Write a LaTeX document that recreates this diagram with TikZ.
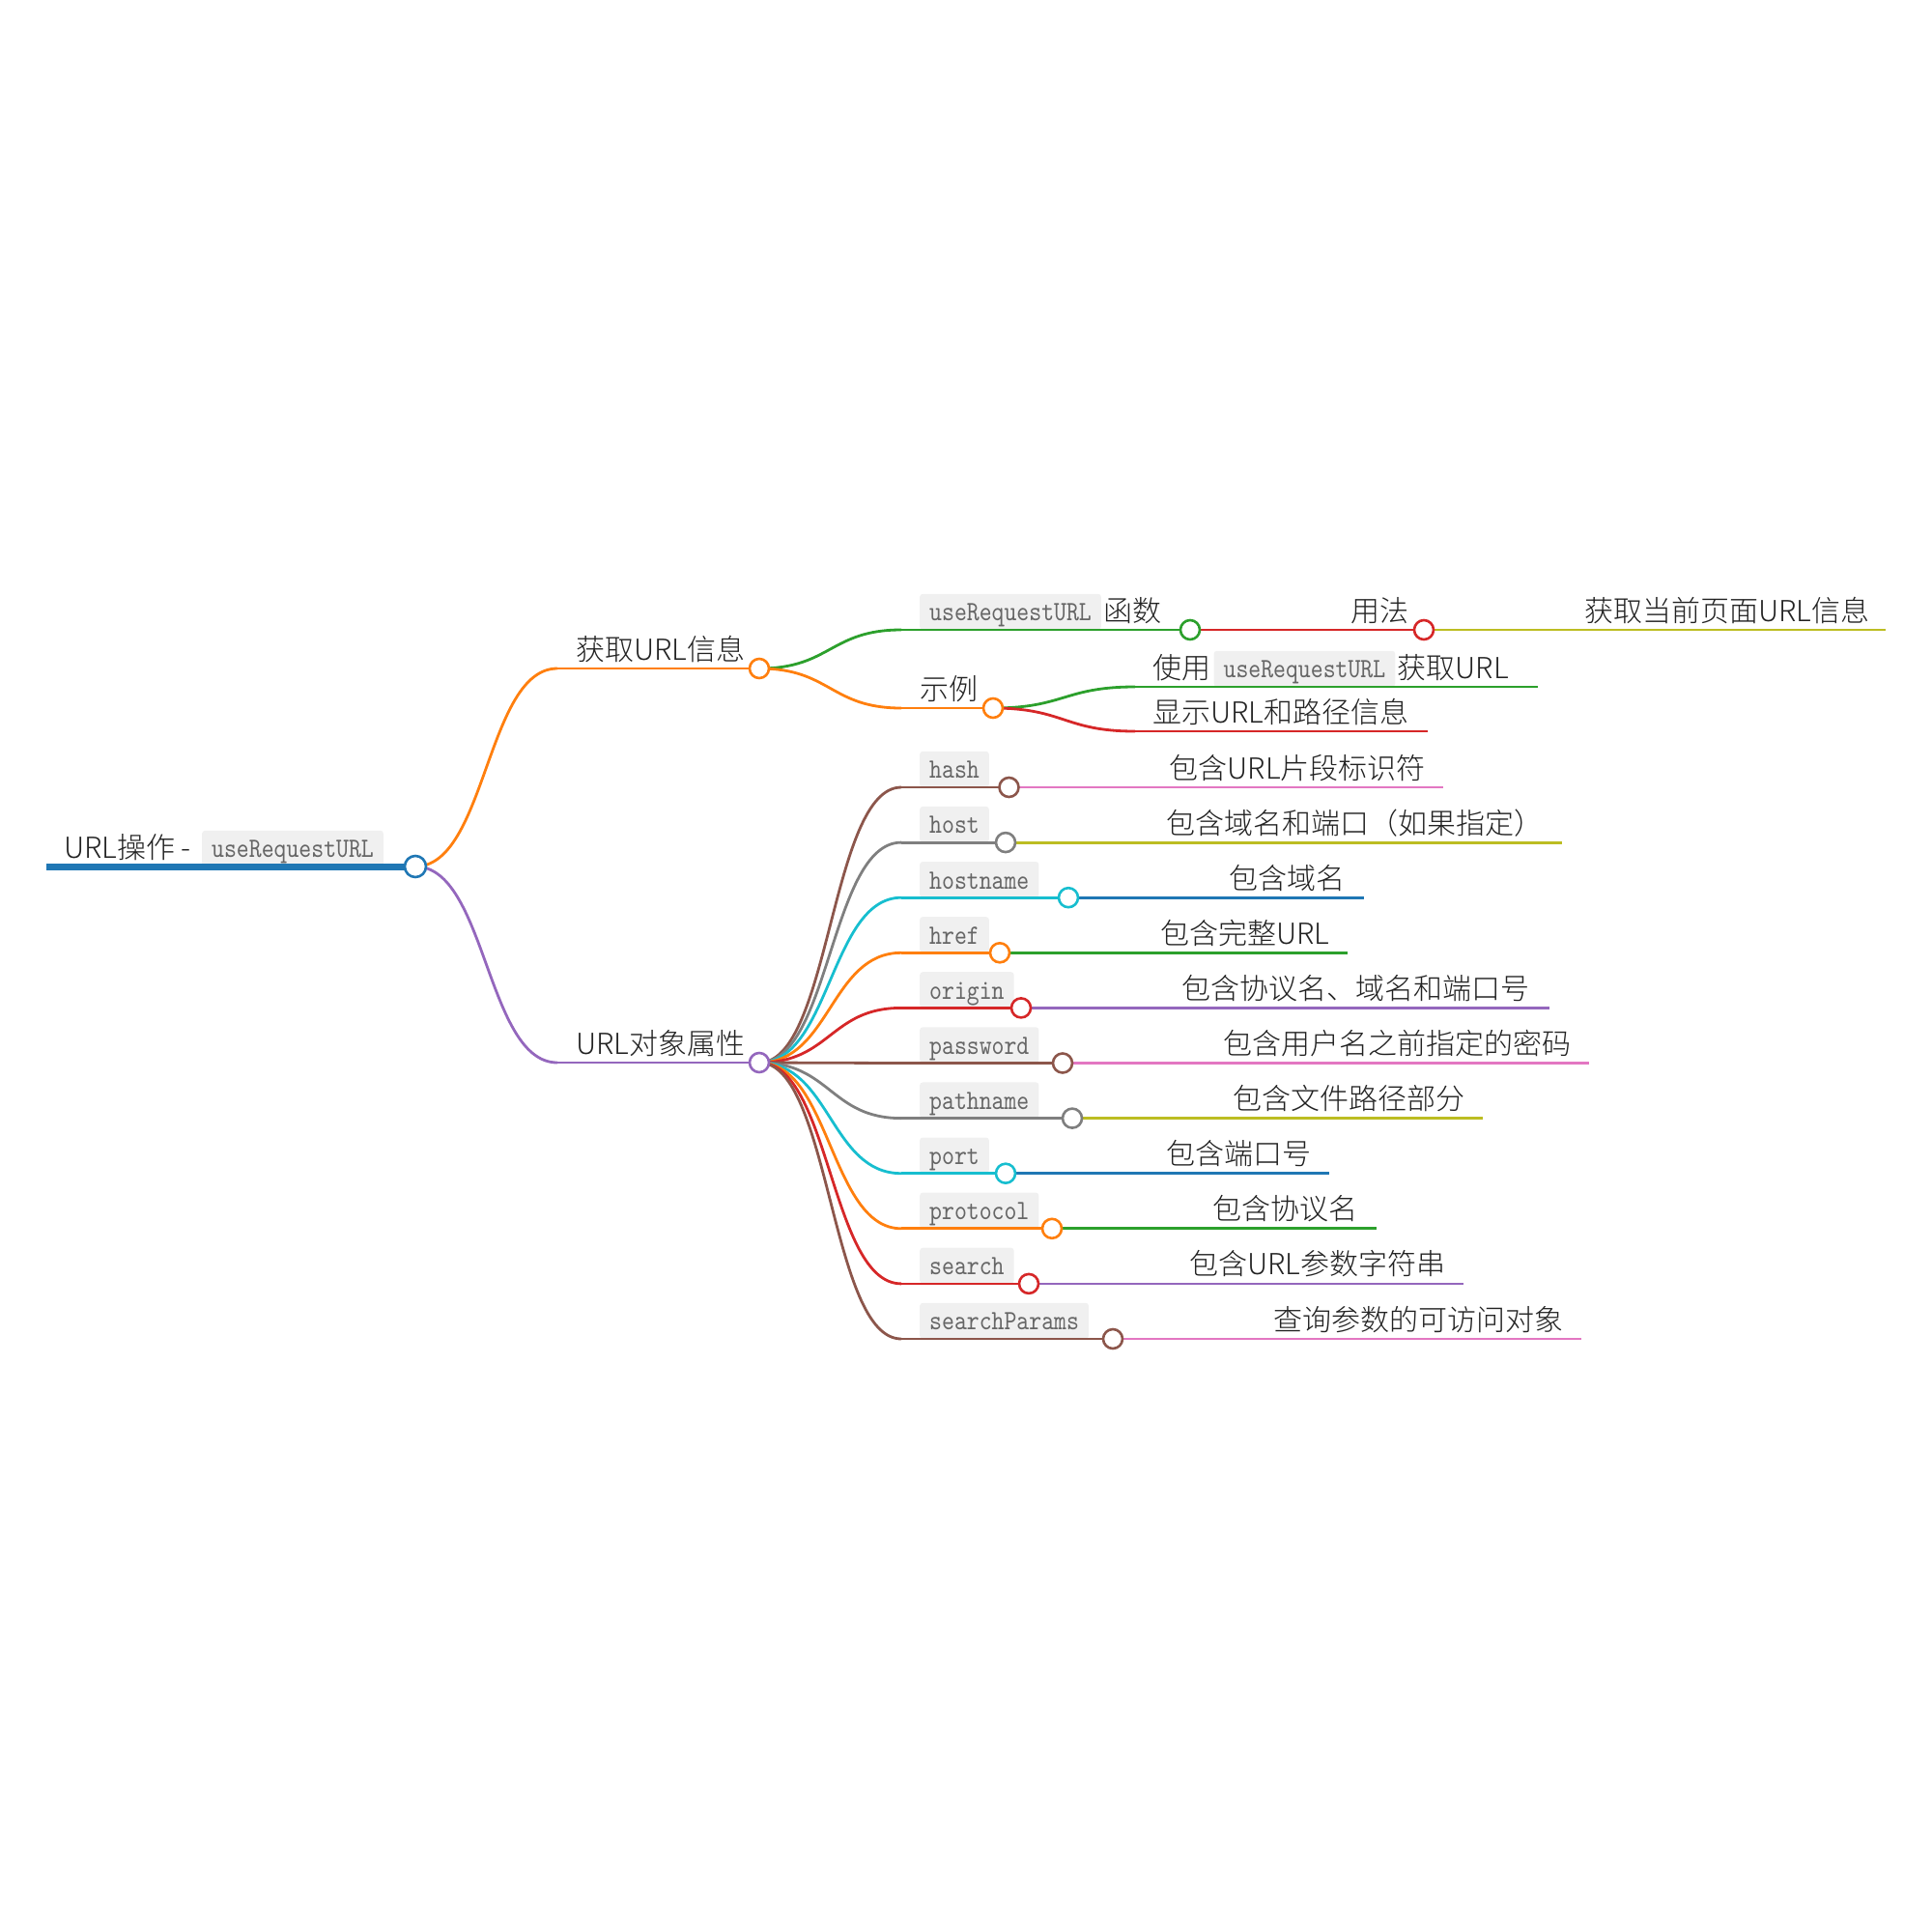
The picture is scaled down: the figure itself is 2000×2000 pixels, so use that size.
\documentclass[tikz,border=0pt]{standalone}
\usepackage{fontspec}
\IfFontExistsTF{Noto Sans CJK SC Light}{\setmainfont{Noto Sans CJK SC Light}}{\setmainfont{Noto Sans CJK SC}}
\newfontfamily\codefont{lmmono10-regular.otf}[FakeStretch=0.85]
\usetikzlibrary{calc}
\definecolor{cblue}{HTML}{1F77B4}
\definecolor{corange}{HTML}{FF7F0E}
\definecolor{cgreen}{HTML}{2CA02C}
\definecolor{cred}{HTML}{D62728}
\definecolor{cpurple}{HTML}{9467BD}
\definecolor{cbrown}{HTML}{8C564B}
\definecolor{cpink}{HTML}{E377C2}
\definecolor{cgray}{HTML}{7F7F7F}
\definecolor{colive}{HTML}{BCBD22}
\definecolor{ccyan}{HTML}{17BECF}
\definecolor{codebg}{HTML}{F0F0F0}
\definecolor{codetext}{HTML}{666666}
\definecolor{txt}{HTML}{222222}
\tikzset{
  lbl/.style={anchor=base west, inner sep=0pt, text=txt, font=\fontsize{30}{36}\selectfont},
  code/.style={fill=codebg, rounded corners=3pt, text=codetext, font=\codefont\fontsize{28.9}{32}\selectfont,
    inner xsep=10pt, inner ysep=0pt, text height=28pt, text depth=9pt, anchor=south west},
  lk/.style={draw=#1, line width=2.8pt},
  dot/.style={circle, draw=#1, fill=white, line width=2.6pt, minimum size=20pt, inner sep=0pt},
}
\newcommand\mmlink[3]{\draw[lk=#1] (#2) .. controls ($(#2)!0.5!(#3 |- #2)$) and ($(#3)!0.5!(#2 |- #3)$) .. (#3);}
\begin{document}
\begin{tikzpicture}[x=1pt,y=-1pt]
\useasboundingbox (0,0) rectangle (2000,2000);
% ---------- coordinates of node starts and circles
\coordinate (R-s) at (48,897);   \coordinate (R-c) at (430,897);
\coordinate (A-s) at (577,692);  \coordinate (A-c) at (786,692);
\coordinate (B-s) at (577,1100); \coordinate (B-c) at (786,1100);
\coordinate (A1-s) at (933,652); \coordinate (A1-c) at (1232,652);
\coordinate (A1a-c) at (1474,652);
\coordinate (A1b-e) at (1952,652);
\coordinate (A2-s) at (933,733); \coordinate (A2-c) at (1028,733);
\coordinate (A2a-s) at (1175,711); \coordinate (A2a-e) at (1592,711);
\coordinate (A2b-s) at (1175,757); \coordinate (A2b-e) at (1478,757);
% ---------- texts
\node[lbl] (R-t) at (66,888) {URL操作 -};
\node[code] (R-k) at (209,897) {useRequestURL};
\node[lbl] (A-t) at (596,683) {获取URL信息};
\node[lbl] (B-t) at (596,1091) {URL对象属性};
\node[code] (A1-k) at (952,652) {useRequestURL};
\node[lbl] (A1-t) at ($(A1-k.south east)+(2,-9)$) {函数};
\node[lbl] (A1a-t) at (1398,643) {用法};
\node[lbl] (A1b-t) at (1640,643) {获取当前页面URL信息};
\node[lbl] (A2-t) at (952,724) {示例};
\node[lbl] (A2a-t1) at (1193,702) {使用};
\node[code] (A2a-k) at ($(A2a-t1.base east)+(3,9)$) {useRequestURL};
\node[lbl] (A2a-t2) at ($(A2a-k.south east)+(2,-9)$) {获取URL};
\node[lbl] (A2b-t) at (1193,748) {显示URL和路径信息};
% ---------- lines
\draw[cblue, line width=7pt] (R-s) -- (R-c);
\mmlink{corange}{R-c}{A-s}
\mmlink{cpurple}{R-c}{B-s}
\draw[lk=corange] (A-s) -- (A-c);
\draw[lk=cpurple] (B-s) -- (B-c);
\mmlink{cgreen}{A-c}{A1-s}
\mmlink{corange}{A-c}{A2-s}
\draw[lk=cgreen] (A1-s) -- (A1-c);
\draw[lk=cred] (A1-c) -- (A1a-c);
\draw[lk=colive] (A1a-c) -- (A1b-e);
\draw[lk=corange] (A2-s) -- (A2-c);
\mmlink{cgreen}{A2-c}{A2a-s}
\mmlink{cred}{A2-c}{A2b-s}
\draw[lk=cgreen] (A2a-s) -- (A2a-e);
\draw[lk=cred] (A2b-s) -- (A2b-e);
% ---------- URL object properties
\foreach \n/\lab/\yy/\cx/\ex/\ca/\cb/\desc in {
 h1/hash/815/1044.5/1494/cbrown/cpink/包含URL片段标识符,
 h2/host/872.1/1041/1617/cgray/colive/包含域名和端口（如果指定）,
 h3/hostname/929.2/1106/1412/ccyan/cblue/包含域名,
 h4/href/986.3/1035/1395/corange/cgreen/包含完整URL,
 h5/origin/1043.4/1057/1604/cred/cpurple/包含协议名、域名和端口号,
 h6/password/1100.5/1100/1645/cbrown/cpink/包含用户名之前指定的密码,
 h7/pathname/1157.6/1110/1535/cgray/colive/包含文件路径部分,
 h8/port/1214.7/1041/1376/ccyan/cblue/包含端口号,
 h9/protocol/1271.8/1089/1425/corange/cgreen/包含协议名,
 h10/search/1328.9/1065/1515/cred/cpurple/包含URL参数字符串,
 h11/searchParams/1386/1152/1637/cbrown/cpink/查询参数的可访问对象}{
  \coordinate (\n-s) at (933,\yy);
  \coordinate (\n-c) at (\cx,\yy);
  \coordinate (\n-e) at (\ex,\yy);
  \node[code] (\n-k) at (952,\yy) {\lab};
  \node[lbl] (\n-t) at ($(\n-c)+(166,-9)$) {\desc};
  \mmlink{\ca}{B-c}{\n-s}
  \draw[lk=\ca] (\n-s) -- (\n-c);
  \draw[lk=\cb] (\n-c) -- (\n-e);
  \node[dot=\ca] at (\n-c) {};
}
% ---------- circles
\node[dot=cblue, minimum size=22pt] at (R-c) {};
\node[dot=corange] at (A-c) {};
\node[dot=cpurple] at (B-c) {};
\node[dot=cgreen] at (A1-c) {};
\node[dot=cred] at (A1a-c) {};
\node[dot=corange] at (A2-c) {};
\end{tikzpicture}
\end{document}
